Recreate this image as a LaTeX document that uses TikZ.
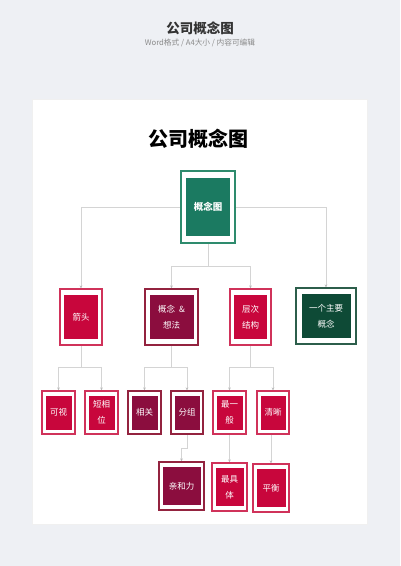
\documentclass[tikz,border=0pt]{standalone}
\usepackage{fontspec}
\setmainfont{Noto Sans CJK SC}
\usetikzlibrary{arrows.meta,backgrounds}
\definecolor{bgc}{HTML}{EEF0F4}
\definecolor{crim}{HTML}{C8063C}
\definecolor{crimb}{HTML}{D0325A}
\definecolor{maro}{HTML}{8B0D3E}
\definecolor{marob}{HTML}{93233F}
\definecolor{gr}{HTML}{1B7A61}
\definecolor{grb}{HTML}{2E8B6D}
\definecolor{dgr}{HTML}{0E4A36}
\definecolor{dgrb}{HTML}{2C5E4B}
\definecolor{lin}{HTML}{D4D4D4}
\tikzset{
  outerbox/.style={draw, line width=1.2pt, fill=white, inner sep=0pt},
  innerbox/.style={inner sep=0pt, text=white, align=center},
  lbl/.style={innerbox, font=\fontsize{8.5}{16}\selectfont},
  conn/.style={lin, line width=0.7pt},
  arr/.style={lin, line width=0.7pt, -{Stealth[length=3pt,width=2.6pt,color=lin!70!gray]}},
}
% #1 name, #2 x, #3 y, #4 outer w, #5 outer h, #6 inner w, #7 inner h, #8 fill, #9 border
\newcommand\cbox[9]{%
  \node[outerbox, draw=#9, minimum width=#4pt, minimum height=#5pt] (#1) at (#2,#3) {};%
  \node[innerbox, fill=#8, minimum width=#6pt, minimum height=#7pt] (#1i) at (#2,#3) {};}
\begin{document}
\begin{tikzpicture}[x=1pt,y=-1pt]
\begin{pgfonlayer}{background}
\fill[bgc] (0,0) rectangle (400,566);
\fill[black!6] (32,99) rectangle (368,525);
\fill[white] (33,100) rectangle (367,524);
\end{pgfonlayer}
\useasboundingbox (0,0) rectangle (400,566);
\node (t) at (200,28) {\fontsize{13.5}{16}\selectfont\bfseries\color[HTML]{333333}公司概念图};
\node (st) at (200,42.5) {\fontsize{7.7}{8}\selectfont\color[HTML]{8A8A8A}Word格式 / A4大小 / 内容可编辑};
\node (t2) at (198,139) {\fontsize{20}{22}\selectfont\bfseries 公司概念图};

\cbox{root}{208}{207}{54}{72}{44}{58}{gr}{grb}
\node[lbl, font=\fontsize{9.5}{10}\selectfont\bfseries] at (root) {概念图};

\cbox{b1}{81}{317}{42}{56}{34}{44}{crim}{crimb}
\node[lbl] at (b1) {箭头};
\cbox{b2}{171.5}{317}{53}{56}{44}{44}{maro}{marob}
\node[lbl] at (b2) {概念\ \ \&\\想法};
\cbox{b3}{250.5}{317}{41}{56}{33}{44}{crim}{crimb}
\node[lbl] at (b3) {层次\\结构};
\cbox{b4}{326}{316}{60}{56}{49}{44}{dgr}{dgrb}
\node[lbl] at (b4) {一个主要\\概念};

\cbox{c1}{58.5}{412.5}{33}{43}{26}{34}{crim}{crimb}
\node[lbl] at (c1) {可视};
\cbox{c2}{101.5}{412.5}{33}{43}{26}{34}{crim}{crimb}
\node[lbl] at (c2) {短相\\位};
\cbox{c3}{144.5}{412.5}{33}{43}{26}{34}{maro}{marob}
\node[lbl] at (c3) {相关};
\cbox{c4}{187}{412.5}{32}{43}{25}{34}{maro}{marob}
\node[lbl] at (c4) {分组};
\cbox{c5}{229.5}{412.5}{33}{43}{26}{34}{crim}{crimb}
\node[lbl] at (c5) {最一\\般};
\cbox{c6}{273}{412.5}{32}{43}{25}{34}{crim}{crimb}
\node[lbl] at (c6) {清晰};

\cbox{d1}{181.5}{486}{45}{48}{38}{38}{maro}{marob}
\node[lbl] at (d1) {亲和力};
\cbox{d2}{229.5}{487}{35}{48}{28}{38}{crim}{crimb}
\node[lbl] at (d2) {最具\\体};
\cbox{d3}{271}{488}{36}{48}{29}{38}{crim}{crimb}
\node[lbl] at (d3) {平衡};

\begin{pgfonlayer}{background}
\coordinate (hl) at (81,207);
\coordinate (hr) at (326,207);
\draw[conn] (hl) -- (hr);
\draw[arr] (hl) -- (b1.north);
\draw[arr] (hr) -- (b4.north);
\coordinate (m) at (208,266);
\draw[conn] (root.south) -- (m);
\coordinate (ml) at (171.5,266);
\coordinate (mr) at (250.5,266);
\draw[conn] (ml) -- (mr);
\draw[arr] (ml) -- (b2.north);
\draw[arr] (mr) -- (b3.north);
% level 2
\coordinate (p1) at (81,367);
\draw[conn] (b1.south) -- (p1);
\coordinate (p1l) at (58.5,367);
\coordinate (p1r) at (101.5,367);
\draw[conn] (p1l) -- (p1r);
\draw[arr] (p1l) -- (c1.north);
\draw[arr] (p1r) -- (c2.north);
\coordinate (p2) at (171.5,367);
\draw[conn] (b2.south) -- (p2);
\coordinate (p2l) at (144.5,367);
\coordinate (p2r) at (187,367);
\draw[conn] (p2l) -- (p2r);
\draw[arr] (p2l) -- (c3.north);
\draw[arr] (p2r) -- (c4.north);
\coordinate (p3) at (250.5,367);
\draw[conn] (b3.south) -- (p3);
\coordinate (p3l) at (229.5,367);
\coordinate (p3r) at (273,367);
\draw[conn] (p3l) -- (p3r);
\draw[arr] (p3l) -- (c5.north);
\draw[arr] (p3r) -- (c6.north);
% level 3
\coordinate (q1) at (187,448);
\coordinate (q2) at (181.5,448);
\draw[conn] (c4.south) -- (q1) -- (q2);
\draw[arr] (q2) -- (d1.north);
\draw[arr] (c5.south) -- (d2.north);
\draw[arr] (c6.south -| d3.north) -- (d3.north);
\end{pgfonlayer}
\end{tikzpicture}
\end{document}
